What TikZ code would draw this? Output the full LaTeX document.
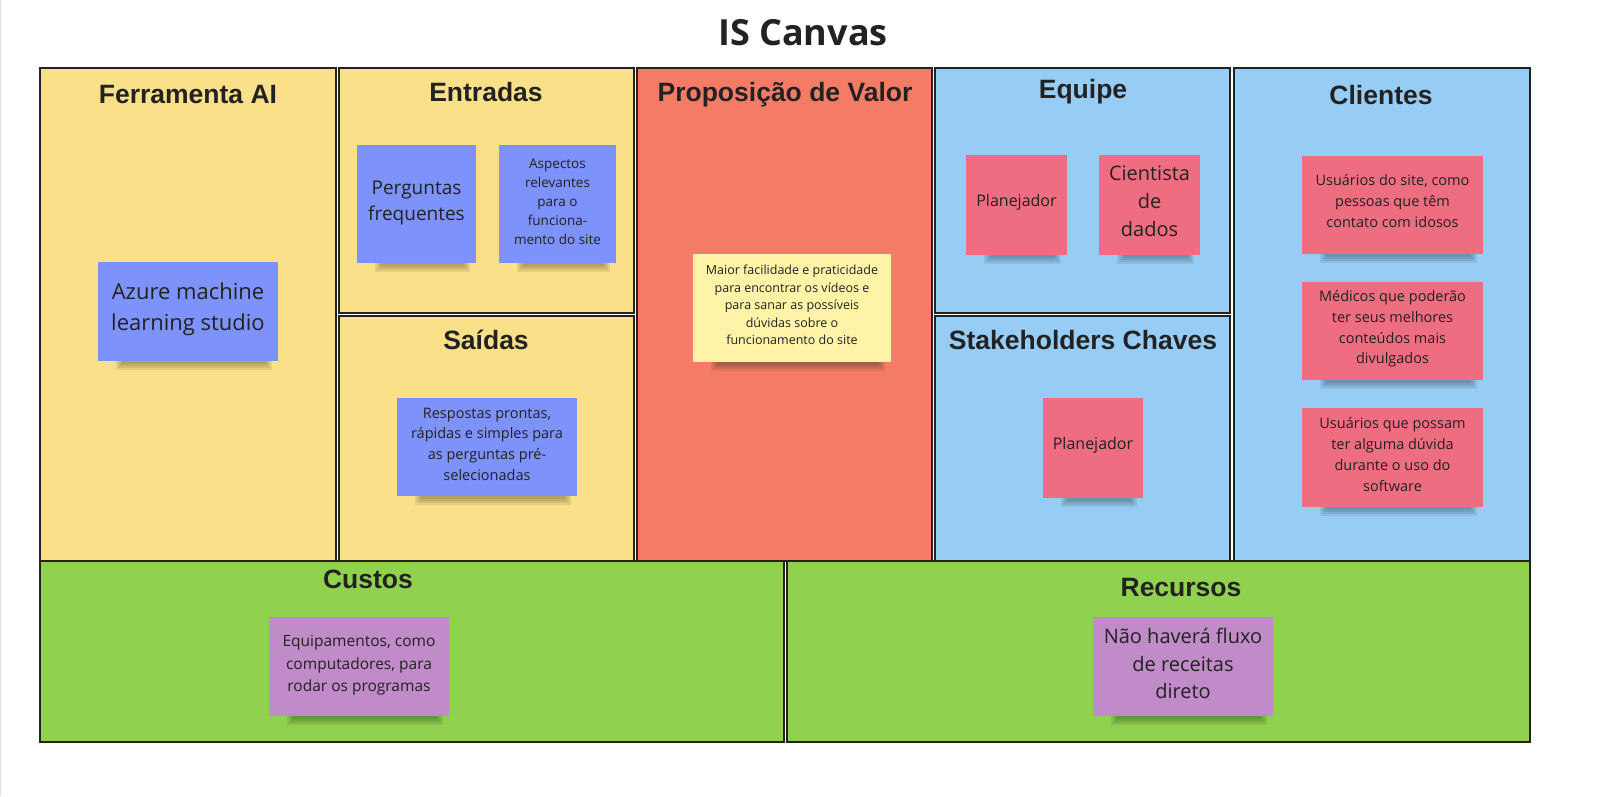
\documentclass[tikz,border=0pt]{standalone}
\usepackage{fontspec}
\setmainfont{Open Sans}
\newfontfamily\hdfont{Liberation Sans}
\newfontfamily\ttlfont{Open Sans}
\definecolor{cyel}{RGB}{250,224,136}
\definecolor{cred}{RGB}{244,124,103}
\definecolor{cblu}{RGB}{151,204,245}
\definecolor{cgrn}{RGB}{144,209,80}
\definecolor{sblu}{RGB}{125,146,250}
\definecolor{spnk}{RGB}{238,109,128}
\definecolor{spur}{RGB}{192,139,200}
\definecolor{syel}{RGB}{255,243,168}
\definecolor{edge}{RGB}{34,34,34}
\definecolor{txt}{RGB}{34,34,34}
\tikzset{
  cell/.style={draw=edge, line width=2.5pt},
  hdr/.style={font=\hdfont\bfseries\fontsize{26.5}{30}\selectfont, text=txt, anchor=center, inner sep=0pt},
  sticky/.style={inner sep=0pt, text=txt, align=center, anchor=center},
  shd/.style={black, opacity=0.08},
}
\newcommand{\stk}[6]{%
  \fill[shd] (#2+24,#5) rectangle (#4-12,#5+3);%
  \fill[shd] (#2+22,#5) rectangle (#4-10,#5+5);%
  \fill[shd] (#2+20,#5) rectangle (#4-8,#5+7);%
  \fill[shd] (#2+18,#5) rectangle (#4-6,#5+9);%
  \fill[#6] (#2,#3) rectangle (#4,#5);%
  \coordinate (#1) at ({(#2+#4)/2},{(#3+#5)/2});%
}
\begin{document}
\begin{tikzpicture}[x=1pt,y=-1pt]
\useasboundingbox (0,0) rectangle (1597,796);
\fill[white] (0,0) rectangle (1597,796);
\draw[gray!25, line width=1pt] (0.5,0) -- (0.5,796);
\node[font=\ttlfont\bfseries\fontsize{36}{40}\selectfont, text=txt, inner sep=0pt] (title) at (803,33) {IS Canvas};
\filldraw[cell, fill=cyel] (40,68) rectangle (336,561);
\filldraw[cell, fill=cyel] (339,68) rectangle (634,313);
\filldraw[cell, fill=cyel] (339,316) rectangle (634,561);
\filldraw[cell, fill=cred] (637,68) rectangle (932,561);
\filldraw[cell, fill=cblu] (935,68) rectangle (1230,313);
\filldraw[cell, fill=cblu] (935,316) rectangle (1230,561);
\filldraw[cell, fill=cblu] (1234,68) rectangle (1530,561);
\filldraw[cell, fill=cgrn] (40,561) rectangle (784,742);
\filldraw[cell, fill=cgrn] (787,561) rectangle (1530,742);
\node[hdr] (hferr) at (188,95) {Ferramenta AI};
\node[hdr] (hent) at (486,92) {Entradas};
\node[hdr] (hsai) at (486,340) {Saídas};
\node[hdr] (hprop) at (785,95) {Proposição de Valor};
\node[hdr] (hequ) at (1083,92) {Equipe};
\node[hdr] (hstk) at (1083,340) {Stakeholders Chaves};
\node[hdr] (hcli) at (1381,95) {Clientes};
\node[hdr] (hcus) at (368,579) {Custos};
\node[hdr] (hrec) at (1181,588) {Recursos};
\stk{azure}{98}{262}{278}{361}{sblu}%
\node[sticky, font=\fontsize{22}{31}\selectfont] (tazure) at ([yshift=2pt]azure) {Azure machine\\learning studio};
\stk{perg}{357}{145}{476}{263}{sblu}%
\node[sticky, font=\fontsize{19}{26}\selectfont] (tperg) at ([yshift=1pt]perg) {Perguntas\\frequentes};
\stk{asp}{499}{145}{616}{263}{sblu}%
\node[sticky, font=\fontsize{13.5}{19}\selectfont] (tasp) at ([yshift=2pt]asp) {Aspectos\\relevantes\\para o\\funciona-\\mento do site};
\stk{resp}{397}{398}{577}{496}{sblu}%
\node[sticky, font=\fontsize{14.5}{20.7}\selectfont] (tresp) at ([yshift=3pt]resp) {Respostas prontas,\\rápidas e simples para\\as perguntas pré-\\selecionadas};
\stk{maior}{693}{254}{891}{362}{syel}%
\node[sticky, font=\fontsize{12.5}{17.5}\selectfont] (tmaior) at ([yshift=3pt]maior) {Maior facilidade e praticidade\\para encontrar os vídeos e\\para sanar as possíveis\\dúvidas sobre o\\funcionamento do site};
\stk{plan1}{966}{155}{1067}{255}{spnk}%
\node[sticky, font=\fontsize{16}{20}\selectfont] (tplan1) at ([yshift=3pt]plan1) {Planejador};
\stk{cient}{1099}{155}{1200}{255}{spnk}%
\node[sticky, font=\fontsize{20}{28}\selectfont] (tcient) at ([yshift=4pt]cient) {Cientista\\de\\dados};
\stk{plan2}{1043}{398}{1143}{498}{spnk}%
\node[sticky, font=\fontsize{16}{20}\selectfont] (tplan2) at ([yshift=3pt]plan2) {Planejador};
\stk{cli1}{1302}{156}{1483}{254}{spnk}%
\node[sticky, font=\fontsize{14.5}{20.7}\selectfont] (tcli1) at ([yshift=4pt]cli1) {Usuários do site, como\\pessoas que têm\\contato com idosos};
\stk{cli2}{1302}{282}{1483}{380}{spnk}%
\node[sticky, font=\fontsize{14.5}{20.7}\selectfont] (tcli2) at ([yshift=2pt]cli2) {Médicos que poderão\\ter seus melhores\\conteúdos mais\\divulgados};
\stk{cli3}{1302}{408}{1483}{507}{spnk}%
\node[sticky, font=\fontsize{14.5}{20.7}\selectfont] (tcli3) at ([yshift=3pt]cli3) {Usuários que possam\\ter alguma dúvida\\durante o uso do\\software};
\stk{equip}{269}{617}{449}{716}{spur}%
\node[sticky, font=\fontsize{15.5}{22.5}\selectfont] (tequip) at ([yshift=1pt]equip) {Equipamentos, como\\computadores, para\\rodar os programas};
\stk{nao}{1093}{617}{1273}{716}{spur}%
\node[sticky, font=\fontsize{20}{27.5}\selectfont] (tnao) at ([yshift=3pt]nao) {Não haverá fluxo\\de receitas\\direto};
\end{tikzpicture}
\end{document}
